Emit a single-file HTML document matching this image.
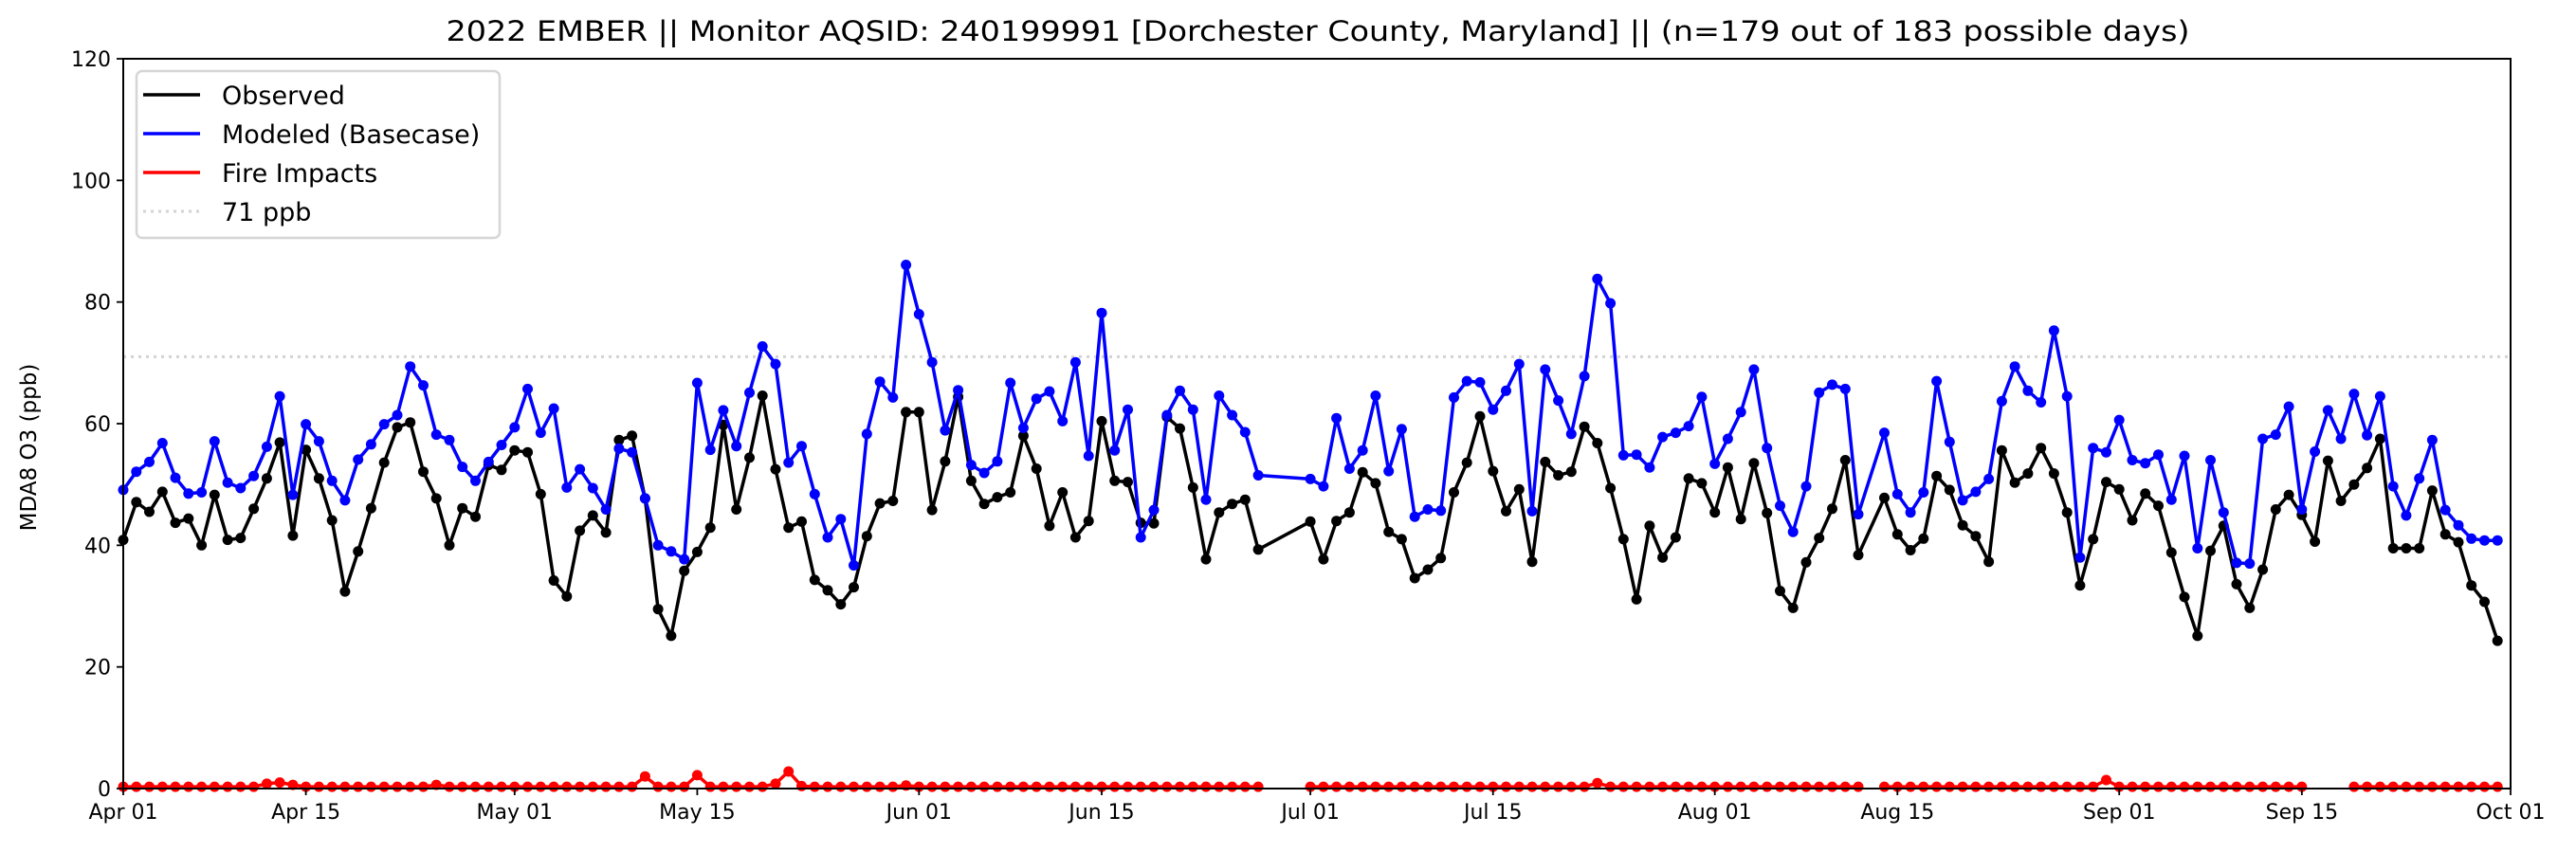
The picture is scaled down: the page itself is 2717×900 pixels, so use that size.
<!DOCTYPE html>
<html><head><meta charset="utf-8"><style>
html,body{margin:0;padding:0;background:#fff;}
svg{display:block;font-family:"DejaVu Sans","Liberation Sans",sans-serif;}
</style></head><body>
<svg id="chart" width="2717" height="900" viewBox="0 0 2717 900" xmlns="http://www.w3.org/2000/svg">
<rect width="2717" height="900" fill="#fff"/>
<text x="1390" y="43" font-size="29" text-anchor="middle" textLength="1839" lengthAdjust="spacingAndGlyphs">2022 EMBER || Monitor AQSID: 240199991 [Dorchester County, Maryland] || (n=179 out of 183 possible days)</text>
<text transform="translate(38,472) rotate(-90)" font-size="23" text-anchor="middle">MDA8 O3 (ppb)</text>
<g id="grid"></g>
<g id="series"></g>
<g id="axes"></g>
<g>
<rect x="144" y="75" width="383" height="176" rx="6" fill="#fff" fill-opacity="0.85" stroke="#d6d6d6" stroke-width="2.5"/>
<line x1="151" y1="100" x2="211" y2="100" stroke="#000" stroke-width="3.5"/>
<text x="234" y="110" font-size="27">Observed</text>
<line x1="151" y1="141" x2="211" y2="141" stroke="#0000ff" stroke-width="3.5"/>
<text x="234" y="151" font-size="27">Modeled (Basecase)</text>
<line x1="151" y1="182" x2="211" y2="182" stroke="#ff0000" stroke-width="3.5"/>
<text x="234" y="192" font-size="27">Fire Impacts</text>
<line x1="151" y1="223" x2="211" y2="223" stroke="#d3d3d3" stroke-width="3" stroke-dasharray="3,5"/>
<text x="234" y="233" font-size="27">71 ppb</text>
</g>
</svg>
<script>
const observed = [40.9,47.1,45.5,48.8,43.7,44.4,40,48.3,40.9,41.2,46,51,56.9,41.6,55.7,51,44.1,32.4,39,46.1,53.6,59.4,60.2,52.1,47.7,40,46.1,44.7,53.2,52.4,55.6,55.3,
48.4,34.2,31.6,42.4,44.9,42.1,57.3,58,47.7,29.5,25.1,35.8,38.9,42.9,59.8,45.9,54.4,64.6,52.5,42.9,43.9,34.3,32.6,30.3,33.1,41.5,46.9,47.3,61.9,61.9,
45.8,53.8,64.4,50.6,46.8,47.9,48.7,58,52.6,43.2,48.7,41.3,44,60.4,50.6,50.4,43.7,43.6,61.1,59.2,49.5,37.7,45.4,46.8,47.5,39.3,
null,null,null,
43.9,37.7,44,45.4,52,50.2,42.2,41,34.6,36,37.9,48.7,53.6,61.2,52.2,45.6,49.2,37.3,53.7,51.5,52.1,59.5,56.8,49.4,41,31.1,43.2,38,41.3,51,50.2,
45.4,52.8,44.3,53.5,45.3,32.5,29.7,37.2,41.2,46,54,38.4,
null,
47.8,41.8,39.2,41.1,51.4,49.1,43.3,41.5,37.3,55.6,50.3,51.8,56,51.8,45.4,33.4,41,50.4,49.2,
44.1,48.5,46.5,38.8,31.5,25.1,39.1,43.2,33.6,29.7,36,45.9,48.3,45,40.6,53.9,47.3,50,52.7,57.5,39.5,39.5,39.5,49,41.8,40.5,33.4,30.7,24.3];
const modeled = [49.1,52.1,53.7,56.8,51.1,48.5,48.7,57.1,50.3,49.4,51.4,56.2,64.5,48.3,59.9,57.1,50.6,47.4,54.1,56.6,59.9,61.4,69.4,66.3,58.2,57.3,52.9,50.6,53.7,56.5,59.4,65.7,
58.5,62.5,49.5,52.5,49.4,45.9,55.9,55.3,47.7,40,39,37.7,66.7,55.7,62.2,56.3,65.1,72.7,69.8,53.6,56.3,48.4,41.3,44.3,36.7,58.3,66.9,64.3,86.1,78,
70.1,58.9,65.5,53.2,51.9,53.8,66.7,59.3,64.1,65.3,60.4,70.1,54.7,78.2,55.6,62.3,41.3,45.8,61.4,65.4,62.3,47.5,64.6,61.4,58.6,51.5,
null,null,null,
50.9,49.7,60.9,52.6,55.6,64.6,52.2,59.1,44.7,45.9,45.7,64.3,67,66.8,62.3,65.4,69.8,45.6,68.9,63.8,58.3,67.8,83.8,79.8,54.8,54.9,52.8,57.8,58.5,59.6,64.4,
53.4,57.5,61.9,68.9,56,46.5,42.2,49.7,65.1,66.4,65.7,45.1,
null,
58.5,48.4,45.4,48.7,67,57,47.4,48.8,50.9,63.7,69.4,65.4,63.5,75.3,64.5,38,56,55.3,60.6,
54,53.5,54.9,47.5,54.7,39.5,54,45.4,37.1,37,57.5,58.2,62.8,45.9,55.4,62.2,57.5,64.9,58.1,64.5,49.7,44.9,51,57.3,45.8,43.3,41.1,40.8,40.8];
const fire = [0.3,0.3,0.3,0.3,0.3,0.3,0.3,0.3,0.3,0.3,
0.3,0.8,1.0,0.6,0.3,0.3,0.3,0.3,0.3,0.3,
0.3,0.3,0.3,0.3,0.6,0.3,0.3,0.3,0.3,0.3,
0.3,0.3,0.3,0.3,0.3,0.3,0.3,0.3,0.3,0.3,
2.0,0.3,0.3,0.3,2.2,0.3,0.3,0.3,0.3,0.3,
0.8,2.8,0.4,0.3,0.3,0.3,0.3,0.3,0.3,0.3,
0.5,0.3,0.3,0.3,0.3,0.3,0.3,0.3,0.3,0.3,
0.3,0.3,0.3,0.3,0.3,0.3,0.3,0.3,0.3,0.3,
0.3,0.3,0.3,0.3,0.3,0.3,0.3,0.3,null,null,
null,0.3,0.3,0.3,0.3,0.3,0.3,0.3,0.3,0.3,
0.3,0.3,0.3,0.3,0.3,0.3,0.3,0.3,0.3,0.3,
0.3,0.3,0.3,0.9,0.3,0.3,0.3,0.3,0.3,0.3,
0.3,0.3,0.3,0.3,0.3,0.3,0.3,0.3,0.3,0.3,
0.3,0.3,0.3,0.3,null,0.3,0.3,0.3,0.3,0.3,
0.3,0.3,0.3,0.3,0.3,0.3,0.3,0.3,0.3,0.3,
0.3,0.3,1.4,0.3,0.3,0.3,0.3,0.3,0.3,0.3,
0.3,0.3,0.3,0.3,0.3,0.3,0.3,0.3,null,null,
null,0.3,0.3,0.3,0.3,0.3,0.3,0.3,0.3,0.3,
0.3,0.3,0.3];
const xTickDays = [0,14,30,44,61,75,91,105,122,136,153,167,183];
const xTickLabels = ["Apr 01","Apr 15","May 01","May 15","Jun 01","Jun 15","Jul 01","Jul 15","Aug 01","Aug 15","Sep 01","Sep 15","Oct 01"];
const yTicks = [0,20,40,60,80,100,120];
const threshold = [71];

const NS = "http://www.w3.org/2000/svg";
const L = 130, R = 2648, T = 62, B = 832, XMAX = 183, YMAX = 120;
function xs(d){ return L + (R - L) * d / XMAX; }
function ys(v){ return B - (B - T) * v / YMAX; }
function mk(tag, attrs, parent){
  const e = document.createElementNS(NS, tag);
  for (const k in attrs) e.setAttribute(k, attrs[k]);
  parent.appendChild(e);
  return e;
}
const grid = document.getElementById('grid');
const series = document.getElementById('series');
const axes = document.getElementById('axes');

threshold.forEach(v => {
  const ln = mk('line', {x1:L, x2:R, y1:ys(v), y2:ys(v), stroke:'#d3d3d3', 'stroke-width':3, 'stroke-dasharray':'3,5'}, grid);
  
  
});

function drawSeries(arr, color, name, connectGaps){
  const g = mk('g', {}, series);
  
  
  let segs = [], cur = [];
  arr.forEach((v, i) => {
    if (v === null) { if (!connectGaps && cur.length) { segs.push(cur); cur = []; } return; }
    cur.push([xs(i), ys(v)]);
  });
  if (cur.length) segs.push(cur);
  segs.forEach(s => {
    const p = mk('polyline', {points: s.map(q => q[0].toFixed(1) + ',' + q[1].toFixed(1)).join(' '), fill:'none', stroke:color, 'stroke-width':3.5, 'stroke-linejoin':'round'}, g);
    
    
  });
  arr.forEach((v, i) => {
    if (v === null) return;
    const c = mk('circle', {cx: xs(i).toFixed(1), cy: ys(v).toFixed(1), r: 5.5, fill: color}, g);
    
    
  });
}
drawSeries(fire, '#ff0000', 'fire-impacts', false);
drawSeries(observed, '#000000', 'observed', true);
drawSeries(modeled, '#0000ff', 'modeled', true);

const frame = mk('rect', {x:L, y:T, width:R-L, height:B-T, fill:'none', stroke:'#000', 'stroke-width':2}, axes);


yTicks.forEach(v => {
  const t = mk('line', {x1:L-7, x2:L, y1:ys(v), y2:ys(v), stroke:'#000', 'stroke-width':1.8}, axes);
  
  
  const tx = mk('text', {x:L-13, y:ys(v)+8, 'font-size':22, 'text-anchor':'end'}, axes);
  tx.textContent = v;
  
  
});
xTickDays.forEach((d, i) => {
  const t = mk('line', {x1:xs(d), x2:xs(d), y1:B, y2:B+7, stroke:'#000', 'stroke-width':1.8}, axes);
  
  
  const tx = mk('text', {x:xs(d), y:B+32, 'font-size':22, 'text-anchor':'middle'}, axes);
  tx.textContent = xTickLabels[i];
  
  
});
</script>
</body></html>
